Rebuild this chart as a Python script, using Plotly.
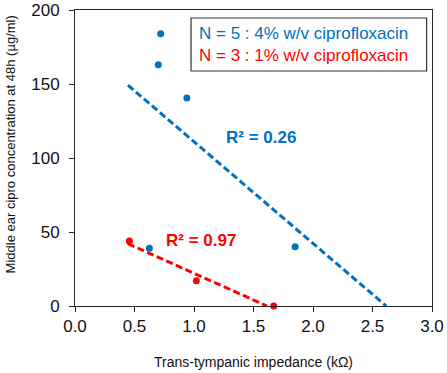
import numpy as np
import plotly.graph_objects as go

# Data
blue_x = [0.72, 0.70, 0.94, 0.625, 1.85]
blue_y = [184, 163, 140.5, 39, 40]
red_x = [0.457, 1.02, 1.67]
red_y = [44, 17, 0]

blue_label = "N = 5 : 4% w/v ciprofloxacin"
red_label = "N = 3 : 1% w/v ciprofloxacin"
blue_r2 = "R² = 0.26"
red_r2 = "R² = 0.97"
x_title = "Trans-tympanic impedance (kΩ)"
y_title = "Middle ear cipro concentration at 48h (µg/ml)"
trend_start = 0.445

BLUE = "#0070C0"
RED = "#FF0000"
FONT = "Arial, Liberation Sans, sans-serif"


def trend(xs, ys):
    m, b = np.polyfit(xs, ys, 1)
    x_end = -b / m
    tx = np.array([trend_start, x_end])
    return tx, m * tx + b


fig = go.Figure()
for xs, ys, col in [(blue_x, blue_y, BLUE), (red_x, red_y, RED)]:
    tx, ty = trend(xs, ys)
    fig.add_trace(go.Scatter(x=tx, y=ty, mode="lines",
                             line=dict(color=col, width=3, dash="7px,3.5px"),
                             showlegend=False, hoverinfo="skip"))
for xs, ys, col in [(blue_x, blue_y, BLUE), (red_x, red_y, RED)]:
    fig.add_trace(go.Scatter(x=xs, y=ys, mode="markers",
                             marker=dict(color=col, size=7),
                             cliponaxis=False, showlegend=False))

axis_common = dict(showline=True, linecolor="#262626", linewidth=1, mirror=True,
                   ticks="outside", ticklen=5, tickcolor="#262626",
                   showgrid=False, zeroline=False, automargin=False,
                   tickfont=dict(family=FONT, size=17, color="#111111"))

fig.update_layout(
    template="none",
    width=447, height=373,
    margin=dict(l=75, r=15, t=10, b=67),
    paper_bgcolor="white", plot_bgcolor="white",
    xaxis=dict(range=[0, 3], dtick=0.5, tickformat=".1f", **axis_common),
    yaxis=dict(range=[0, 200], dtick=50, ticklabelstandoff=6, **axis_common),
    font=dict(family=FONT),
    shapes=[dict(type="rect", xref="paper", yref="paper",
                 x0=0.325, x1=0.985, y0=0.794, y1=0.973,
                 line=dict(color="#333333", width=1.2), fillcolor="white")],
    annotations=[
        dict(xref="paper", yref="paper", x=0.342, y=0.882, xanchor="left", yanchor="middle",
             align="left", showarrow=False,
             text=f"<span style='color:{BLUE}'>{blue_label}</span><br>"
                  f"<span style='color:{RED}'>{red_label}</span>",
             font=dict(family=FONT, size=17)),
        dict(x=1.563, y=114, text=f"<b>{blue_r2}</b>", showarrow=False,
             font=dict(family=FONT, size=17, color=BLUE)),
        dict(x=1.06, y=44, text=f"<b>{red_r2}</b>", showarrow=False,
             font=dict(family=FONT, size=17, color=RED)),
        dict(xref="paper", yref="paper", x=0.5, y=(306 - 362) / 296, text=x_title,
             showarrow=False, xanchor="center", yanchor="middle",
             font=dict(family=FONT, size=14, color="#111111")),
        dict(xref="paper", yref="paper", x=(10 - 74.7) / 357.6, y=(306 - 144) / 296,
             text=y_title, textangle=-90, showarrow=False,
             xanchor="center", yanchor="middle",
             font=dict(family=FONT, size=13, color="#111111")),
    ],
)

fig.write_html("out.html", config={"displayModeBar": False},
               post_script="document.body.style.margin='0px';document.body.style.overflow='hidden';")
